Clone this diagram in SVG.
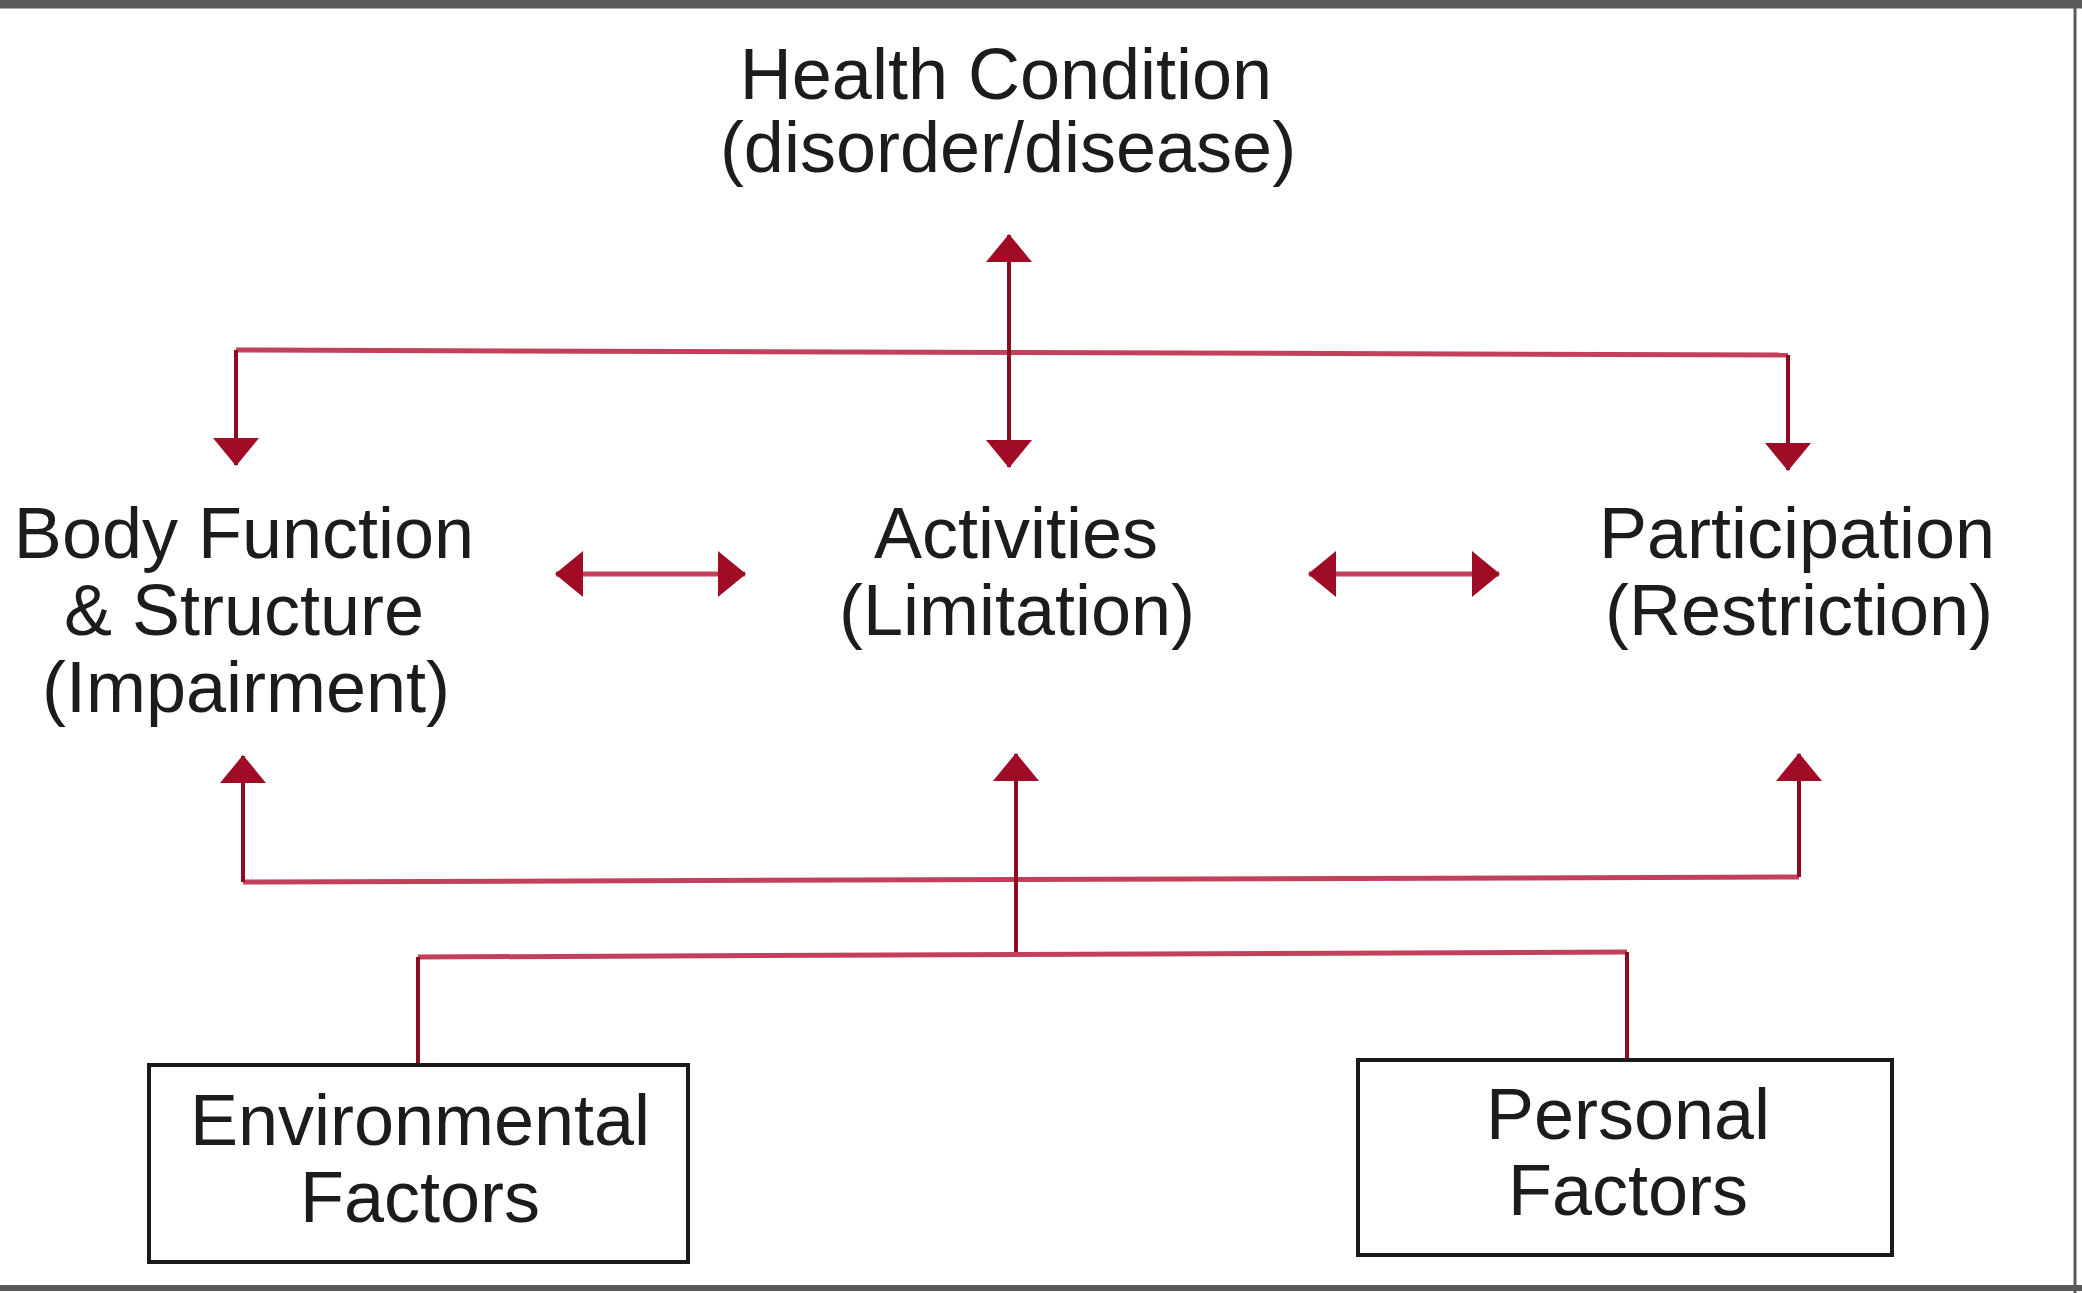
<svg xmlns="http://www.w3.org/2000/svg" width="2082" height="1293" viewBox="0 0 2082 1293">
<defs>
<style>
.t{font-family:"Liberation Sans",Arial,sans-serif;font-size:72px;fill:#1c1c1c;text-anchor:middle}
.v{fill:none;stroke:#8e0c22;stroke-width:4}
.h{fill:none;stroke:#c2405a;stroke-width:5}
.box{fill:#fff;stroke:#1a1a1a;stroke-width:4}
.frame{stroke:#5a5a5a;fill:none}
</style>
<marker id="ah" viewBox="0 0 28 46" refX="27" refY="23" markerWidth="28" markerHeight="46" markerUnits="userSpaceOnUse" orient="auto-start-reverse">
<path d="M0,0 L28,23 L0,46 Z" fill="#a00c26"/>
</marker>
</defs>
<rect width="2082" height="1293" fill="#fff"/>
<g id="frame">
<line class="frame" x1="0" y1="4" x2="2082" y2="4" stroke-width="9"/>
<line class="frame" x1="2075" y1="0" x2="2075" y2="1293" stroke-width="3" stroke="#333"/>
<line class="frame" x1="0" y1="1288" x2="2082" y2="1288" stroke-width="6"/>
</g>
<g id="connectors">
<path class="h" d="M236,350 L1788,355"/>
<path class="v" d="M1009,467 L1009,235" marker-start="url(#ah)" marker-end="url(#ah)"/>
<path class="v" d="M236,350 V465" marker-end="url(#ah)"/>
<path class="v" d="M1788,355 V470" marker-end="url(#ah)"/>
<path class="h" d="M556,574 H745" marker-start="url(#ah)" marker-end="url(#ah)"/>
<path class="h" d="M1309,574 H1499" marker-start="url(#ah)" marker-end="url(#ah)"/>
<path class="h" d="M243,882 L1799,877"/>
<path class="v" d="M243,882 V756" marker-end="url(#ah)"/>
<path class="v" d="M1799,877 V754" marker-end="url(#ah)"/>
<path class="v" d="M1016,955 V754" marker-end="url(#ah)"/>
<path class="h" d="M418,957 L1627,952"/>
<path class="v" d="M418,957 V1065"/>
<path class="v" d="M1627,952 V1060"/>
</g>
<g id="health">
<text class="t" x="1006" y="99">Health Condition</text>
<text class="t" x="1008" y="172">(disorder/disease)</text>
</g>
<g id="body">
<text class="t" x="244" y="558">Body Function</text>
<text class="t" x="244" y="635">&amp; Structure</text>
<text class="t" x="246" y="712">(Impairment)</text>
</g>
<g id="activities">
<text class="t" x="1016" y="558">Activities</text>
<text class="t" x="1017" y="635">(Limitation)</text>
</g>
<g id="participation">
<text class="t" x="1797" y="558">Participation</text>
<text class="t" x="1799" y="635">(Restriction)</text>
</g>
<g id="environmental">
<rect class="box" x="149" y="1065" width="539" height="197"/>
<text class="t" x="420" y="1145">Environmental</text>
<text class="t" x="420" y="1222">Factors</text>
</g>
<g id="personal">
<rect class="box" x="1358" y="1060" width="534" height="195"/>
<text class="t" x="1628" y="1139">Personal</text>
<text class="t" x="1628" y="1215">Factors</text>
</g>
</svg>
